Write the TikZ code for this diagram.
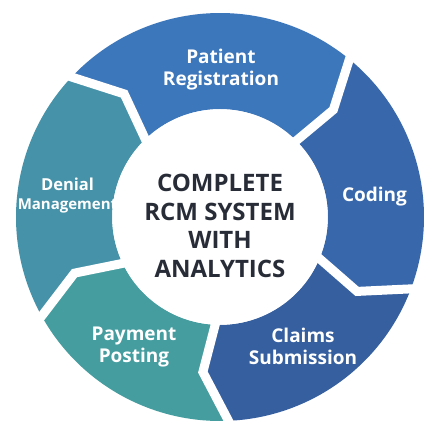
\documentclass[tikz,border=0pt]{standalone}
\usepackage{fontspec}
\setmainfont{Open Sans}
\definecolor{cPatient}{HTML}{3C76BB}
\definecolor{cCoding}{HTML}{3868AB}
\definecolor{cClaims}{HTML}{355F9F}
\definecolor{cPayment}{HTML}{459D9F}
\definecolor{cDenial}{HTML}{4692A9}
\definecolor{cCenter}{HTML}{272C37}
\begin{document}
\begin{tikzpicture}[x=1pt,y=1pt,
  seglabel/.style={text=white,font=\bfseries\fontsize{19}{21.5}\selectfont,align=center,inner sep=0pt},
  gapline/.style={white,line width=9pt,line join=miter}]
\useasboundingbox (0,0) rectangle (440,433);
\fill[white] (0,0) rectangle (440,433);
\begin{scope}[shift={(220,216)}]
% segments
\fill[cPatient] (137.7:204pt) arc[start angle=137.7,end angle=51.5,radius=204pt] -- (43.4:156pt) -- (45.4:108pt) arc[start angle=45.4,end angle=135.4,radius=108pt] -- (127.9:156pt) -- cycle;
\fill[cCoding] (51.5:204pt) arc[start angle=51.5,end angle=-19.7,radius=204pt] -- (-28.5:156pt) -- (-21.2:108pt) arc[start angle=-21.2,end angle=45.4,radius=108pt] -- (43.4:156pt) -- cycle;
\fill[cClaims] (-19.7:204pt) arc[start angle=-19.7,end angle=-86.6,radius=204pt] -- (-96.3:156pt) -- (-91.6:108pt) arc[start angle=-91.6,end angle=-21.2,radius=108pt] -- (-28.5:156pt) -- cycle;
\fill[cPayment] (-86.6:204pt) arc[start angle=-86.6,end angle=-150,radius=204pt] -- (-158.9:156pt) -- (-153.4:108pt) arc[start angle=-153.4,end angle=-91.6,radius=108pt] -- (-96.3:156pt) -- cycle;
\fill[cDenial] (-150:204pt) arc[start angle=-150,end angle=-222.3,radius=204pt] -- (-232.1:156pt) -- (-224.6:108pt) arc[start angle=-224.6,end angle=-153.4,radius=108pt] -- (-158.9:156pt) -- cycle;
% gaps
\coordinate (g1o) at (51.5:212pt); \coordinate (g1b) at (43.4:156pt); \coordinate (g1i) at (45.4:100pt);
\coordinate (g2o) at (-19.7:212pt); \coordinate (g2b) at (-28.5:156pt); \coordinate (g2i) at (-21.2:100pt);
\coordinate (g3o) at (-86.6:212pt); \coordinate (g3b) at (-96.3:156pt); \coordinate (g3i) at (-91.6:100pt);
\coordinate (g4o) at (-150:212pt); \coordinate (g4b) at (-158.9:156pt); \coordinate (g4i) at (-153.4:100pt);
\coordinate (g5o) at (137.7:212pt); \coordinate (g5b) at (127.9:156pt); \coordinate (g5i) at (135.4:100pt);
\draw[gapline] (g1o) -- (g1b) -- (g1i);
\draw[gapline] (g2o) -- (g2b) -- (g2i);
\draw[gapline] (g3o) -- (g3b) -- (g3i);
\draw[gapline] (g4o) -- (g4b) -- (g4i);
\draw[gapline] (g5o) -- (g5b) -- (g5i);
\end{scope}
% labels
\node[seglabel] (patient) at (221,363.5) {Patient\\Registration};
\node[seglabel] (coding) at (374.5,236) {Coding};
\node[seglabel] (claims) at (303,86.5) {Claims\\Submission};
\node[seglabel] (payment) at (134,86) {Payment\\Posting};
\node[seglabel,font=\bfseries\fontsize{16.5}{19}\selectfont] (denial) at (67.5,237.5) {Denial\\{\fontsize{15}{19}\selectfont Management}};
% centre
\fill[white] (220,216) circle[radius=107.5pt];
\node[text=cCenter,font=\bfseries\fontsize{24}{28.7}\selectfont,align=center,inner sep=0pt] (centre) at (220,207) {COMPLETE\\RCM SYSTEM\\WITH\\ANALYTICS};
\end{tikzpicture}
\end{document}
